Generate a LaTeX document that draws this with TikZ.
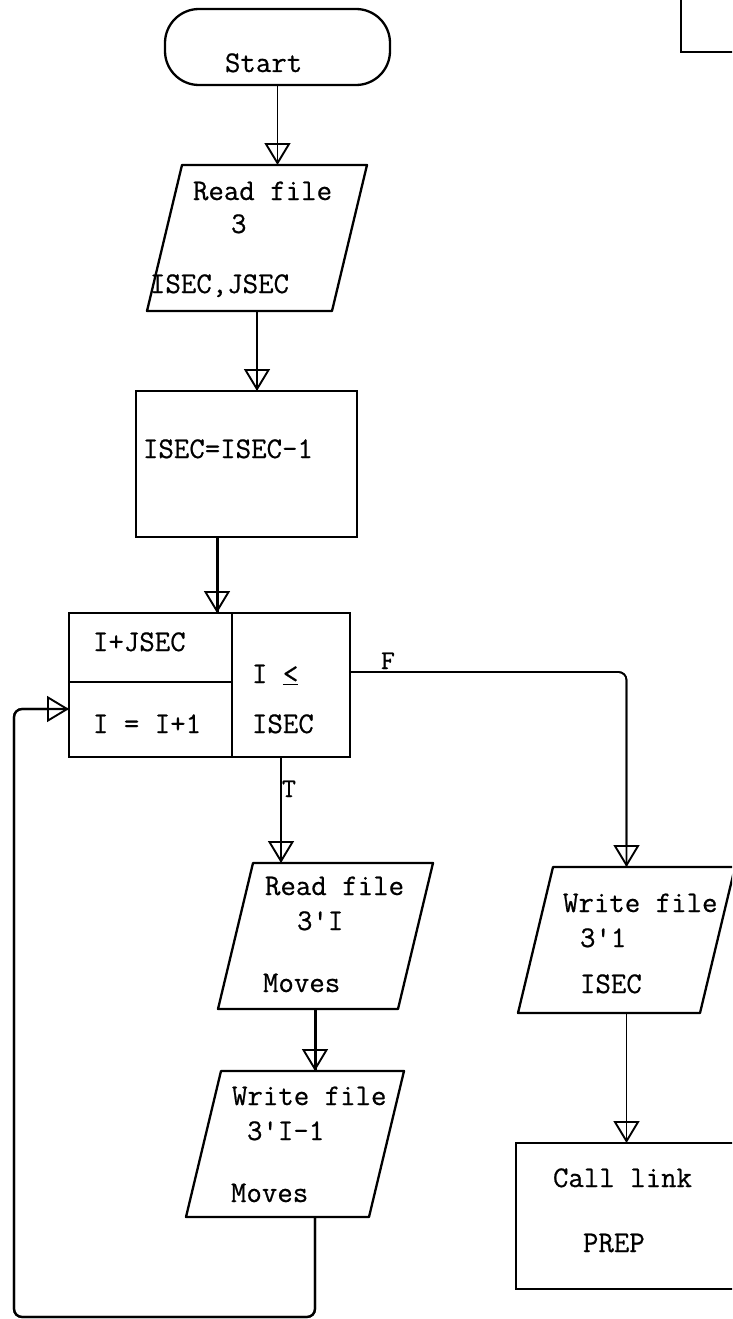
\documentclass[tikz,border=0pt]{standalone}
\usepackage{fontspec}
\newfontfamily\twfont{Latin Modern Mono}[FakeBold=0.6]
\usetikzlibrary{arrows.meta,calc}
\newcommand\paragram[2]{%
  \draw[boxline] ($(#1.north west)+(#2,0)$) -- (#1.north east) -- ($(#1.south east)+(-#2,0)$) -- (#1.south west) -- cycle;}
\begin{document}
\begin{tikzpicture}[x=1pt,y=-1pt,
  shapebox/.style={rectangle, inner sep=0pt, outer sep=0pt},
  boxline/.style={draw, line width=2.3pt, line join=round},
  drawnbox/.style={shapebox, draw, line width=2.3pt},
  txt/.style={anchor=base west, inner sep=0pt, outer sep=0pt, font=\twfont\fontsize{30}{36}\selectfont},
  smalltxt/.style={txt, font=\twfont\fontsize{27}{30}\selectfont},
  tipstyle/.style={-{Triangle[open, length=22pt, width=26pt, line width=1.9pt]}},
  flow/.style={draw, line width=1.7pt, tipstyle, postaction={draw, arrows=-}},
  boldflow/.style={draw, line width=3pt, tipstyle, postaction={draw, arrows=-}},
  loopflow/.style={draw, line width=2.2pt, tipstyle, postaction={draw, arrows=-}}]
\clip (0,0) rectangle (732,1319);
\fill[white] (0,0) rectangle (732,1319);

% top-right fragment of another box
\draw[line width=2.6pt] (681,-30) -- (681,52) -- (760,52);

% shapes
\node[drawnbox, rounded corners=34pt, minimum width=225pt, minimum height=76pt] (start) at (277.5,47) {};
\node[shapebox, minimum width=220pt, minimum height=146pt] (read1) at (257,238) {};
\paragram{read1}{35}
\node[drawnbox, minimum width=221pt, minimum height=146pt] (isec) at (246.5,464) {};
\node[drawnbox, minimum width=163pt, minimum height=69pt] (lt) at (150.5,647.5) {};
\node[drawnbox, minimum width=163pt, minimum height=75pt] (lb) at (150.5,719.5) {};
\node[drawnbox, minimum width=118pt, minimum height=144pt] (rc) at (291,685) {};
\node[shapebox, minimum width=215pt, minimum height=146pt] (read2) at (325.5,936) {};
\paragram{read2}{35}
\node[shapebox, minimum width=217pt, minimum height=146pt] (write1) at (626.5,940) {};
\paragram{write1}{35}
\node[shapebox, minimum width=218pt, minimum height=146pt] (write2) at (295,1144) {};
\paragram{write2}{35}
\node[drawnbox, minimum width=224pt, minimum height=146pt] (call) at (628,1216) {};

% texts
\node[txt] (tstart) at (225,72) {Start};
\node[txt] (tr1a) at (193,200) {Read file};
\node[txt] (tr1b) at (231,233) {3};
\node[txt] (tr1c) at (150,293) {ISEC,JSEC};
\node[txt] (tisec) at (143,458) {ISEC=ISEC-1};
\node[txt] (tlt) at (93,651) {I+JSEC};
\node[txt] (tlb) at (93,733) {I = I+1};
\node[txt] (trca) at (252,683) {I \underline{<}};
\node[txt] (trcb) at (252,733) {ISEC};
\node[smalltxt] (tF) at (381,669) {F};
\node[smalltxt] (tT) at (282,797) {T};
\node[txt] (tr2a) at (265,895) {Read file};
\node[txt] (tr2b) at (297,930) {3\textquotesingle I};
\node[txt] (tr2c) at (263,992) {Moves};
\node[txt] (tw1a) at (563,912) {Write file};
\node[txt] (tw1b) at (580,947) {3\textquotesingle 1};
\node[txt] (tw1c) at (580,993) {ISEC};
\node[txt] (tw2a) at (232,1105) {Write file};
\node[txt] (tw2b) at (247,1140) {3\textquotesingle I-1};
\node[txt] (tw2c) at (231,1202) {Moves};
\node[txt] (tca) at (553,1187) {Call link};
\node[txt] (tcb) at (583,1252) {PREP};

% connectors
\draw[flow] (start.south) -- (start.south |- read1.north);
\draw[flow] (read1.south) -- (read1.south |- isec.north);
\coordinate (c1) at ([xshift=-29.5pt]isec.south);
\draw[boldflow] (c1) -- (c1 |- lt.north);
\coordinate (cT) at ([xshift=-10pt]rc.south);
\draw[flow] (cT) -- (cT |- read2.north);
\coordinate (cF) at ([yshift=13pt]rc.east);
\draw[flow, rounded corners=8pt] (cF) -| (write1.north);
\coordinate (c2) at ([xshift=-10.5pt]read2.south);
\draw[boldflow] (c2) -- (c2 |- write2.north);
\draw[flow] (write1.south) -- (write1.south |- call.north);
\coordinate (lp) at ([xshift=20pt]write2.south);
\coordinate (loopcorner) at (14,1317);
\coordinate (la) at ([yshift=10.5pt]lb.west);
\draw[loopflow, rounded corners=8pt] (lp) |- (loopcorner) |- (la);
\end{tikzpicture}
\end{document}
